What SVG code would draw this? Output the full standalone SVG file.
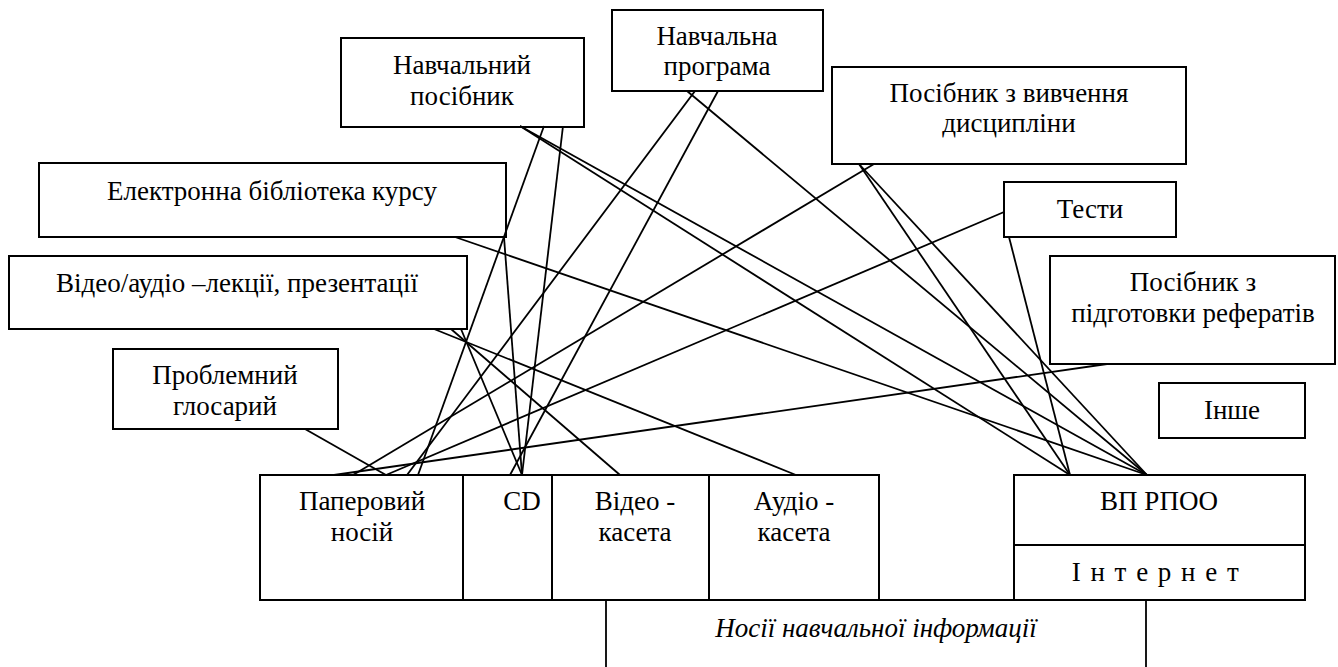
<svg xmlns="http://www.w3.org/2000/svg" width="1338" height="667" viewBox="0 0 1338 667">
<style>
.box{fill:#fff;stroke:#000;stroke-width:2}
.ln{stroke:#000;stroke-width:1.8;fill:none}
text{font-family:'Liberation Serif','Times New Roman',serif;font-size:27px;fill:#000;text-anchor:middle}
.it{font-style:italic}
</style>
<rect width="1338" height="667" fill="#fff"/>
<g id="nodes-top">
<g id="n-posibnyk"><rect class="box" x="341" y="38" width="243" height="89"/><text x="462" y="74">Навчальний</text><text x="462" y="105">посібник</text></g>
<g id="n-programa"><rect class="box" x="612" y="10" width="211" height="81"/><text x="717" y="45">Навчальна</text><text x="717" y="75">програма</text></g>
<g id="n-vyvchennia"><rect class="box" x="832" y="67" width="354" height="97"/><text x="1009" y="102">Посібник з вивчення</text><text x="1009" y="132">дисципліни</text></g>
<g id="n-biblioteka"><rect class="box" x="39" y="163" width="467" height="74"/><text x="272" y="200">Електронна бібліотека курсу</text></g>
<g id="n-testy"><rect class="box" x="1004" y="182" width="172" height="55"/><text x="1090" y="218">Тести</text></g>
<g id="n-lektsii"><rect class="box" x="9" y="256" width="458" height="73"/><text x="237" y="292">Відео/аудіо –лекції, презентації</text></g>
<g id="n-referaty"><rect class="box" x="1050" y="256" width="285" height="108"/><text x="1193" y="291">Посібник з</text><text x="1193" y="322">підготовки рефератів</text></g>
<g id="n-hlosarii"><rect class="box" x="113" y="349" width="225" height="80"/><text x="225" y="384">Проблемний</text><text x="225" y="415">глосарий</text></g>
<g id="n-inshe"><rect class="box" x="1159" y="383" width="146" height="55"/><text x="1232" y="419">Інше</text></g>
</g>
<g id="connectors">
<line class="ln" x1="520" y1="126" x2="1070" y2="475"/>
<line class="ln" x1="520" y1="126" x2="1147" y2="475"/>
<line class="ln" x1="544" y1="126" x2="418" y2="475"/>
<line class="ln" x1="563" y1="126" x2="522" y2="475"/>
<line class="ln" x1="687" y1="91" x2="1147" y2="475"/>
<line class="ln" x1="695" y1="91" x2="407" y2="475"/>
<line class="ln" x1="718" y1="91" x2="510" y2="475"/>
<line class="ln" x1="859" y1="164" x2="1070" y2="475"/>
<line class="ln" x1="859" y1="164" x2="1147" y2="475"/>
<line class="ln" x1="874" y1="164" x2="353" y2="475"/>
<line class="ln" x1="1004" y1="212" x2="386" y2="475"/>
<line class="ln" x1="1009" y1="237" x2="1070" y2="475"/>
<line class="ln" x1="1107" y1="364" x2="334" y2="475"/>
<line class="ln" x1="455" y1="237" x2="1147" y2="475"/>
<line class="ln" x1="504" y1="237" x2="522" y2="475"/>
<line class="ln" x1="461" y1="329" x2="522" y2="475"/>
<line class="ln" x1="451" y1="329" x2="620" y2="475"/>
<line class="ln" x1="434" y1="329" x2="796" y2="475"/>
<line class="ln" x1="305" y1="429" x2="386" y2="475"/>
</g>
<g id="carriers">
<g id="n-nosii"><path class="ln" d="M606,668 V600 H1146 V668" stroke-width="2"/><text class="it" x="876" y="637">Носії навчальної інформації</text></g>
<g id="n-paper"><rect class="box" x="260" y="475" width="203" height="125"/><text x="362" y="510">Паперовий</text><text x="362" y="541">носій</text></g>
<g id="n-cd"><rect class="box" x="463" y="475" width="89" height="125"/><text x="522" y="510">CD</text></g>
<g id="n-video"><rect class="box" x="552" y="475" width="157" height="125"/><text x="635" y="510">Відео -</text><text x="635" y="541">касета</text></g>
<g id="n-audio"><rect class="box" x="709" y="475" width="170" height="125"/><text x="794" y="510">Аудіо -</text><text x="794" y="541">касета</text></g>
<g id="n-vp"><rect class="box" x="1014" y="475" width="291" height="125"/><line class="ln" x1="1014" y1="545" x2="1305" y2="545" stroke-width="2"/><text x="1159" y="510">ВП РПОО</text><text x="1156" y="581" letter-spacing="1.5">І н т е р н е т</text></g>
</g>
</svg>
